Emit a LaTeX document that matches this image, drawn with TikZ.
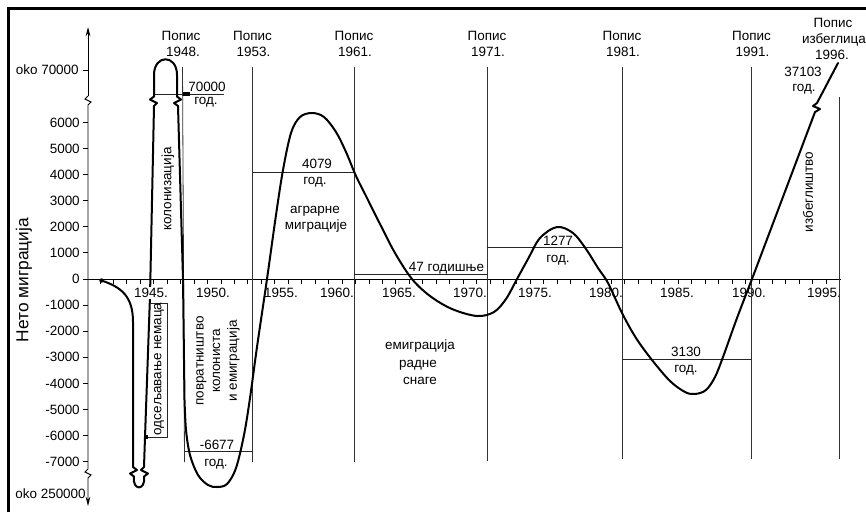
\documentclass[tikz,border=0pt]{standalone}
\usepackage{fontspec}
\setmainfont{Liberation Sans}
\usetikzlibrary{arrows.meta}
\begin{document}
\begin{tikzpicture}[x=0.75pt,y=-0.75pt,
  lbl/.style={font=\fontsize{10.1}{11.25}\selectfont, inner sep=0pt},
  curve/.style={line width=1.5pt, line join=round, line cap=round},
  census/.style={line width=0.6pt, draw=black!80},
  avg/.style={line width=0.6pt, draw=black!85},
  axisln/.style={line width=0.7pt},
  tip/.style={-{Stealth[length=7pt,width=3.5pt]}}
]
\useasboundingbox (0,0) rectangle (866,512);
\fill[white] (0,0) rectangle (866,512);
% frame (top and left edges)
\draw[line width=2.3pt] (8.5,512) -- (8.5,8.5) -- (866,8.5);

% ---------- Y axis ----------
\coordinate (ytop) at (88,27);
\coordinate (ybot) at (88,506);
\draw[axisln, tip] (88,96) -- (ytop);
\draw[axisln] (88,96) -- (85,99) -- (91,102) -- (88,105) -- (88,469);
\draw[axisln, tip] (88,469) -- (85,472) -- (91,475) -- (88,478) -- (ybot);
\node[font=\fontsize{13}{15}\selectfont, rotate=90, inner sep=0pt] (ytitle) at (24,280) {Нето миграција};
\foreach \v in {-7000,-6000,...,6000} {
  \pgfmathsetmacro\yy{279-\v*0.0261}
  \draw[axisln] (83,\yy) -- (88,\yy);
  \node[lbl, anchor=east] (yl\v) at (80,\yy) {\v};
}
\draw[axisln] (83,70) -- (88,70);
\node[lbl, anchor=east] (ylhi) at (79,70) {oko 70000};
\node[lbl, anchor=base east] (ylLo) at (86,498) {oko 250000};

% ---------- X axis ----------
\draw[axisln] (88,279) -- (841,279);
\foreach \i in {0,...,55} {
  \draw[axisln] (100+\i*13.45,279) -- ++(0,4.5);
}
\foreach \x/\yr in {213/1950,281/1955,337/1960,399/1965,470/1970,535/1975,606/1980,677/1985,749/1990,824/1995} {
  \node[lbl, anchor=base] (yr\yr) at (\x,297.5) {\yr.};
}

% ---------- census lines ----------
\draw[census] (182.5,67) -- (184.5,462);
\node[lbl, anchor=base] (cpa) at (181,40) {Попис};
\node[lbl, anchor=base] (cya) at (183,56) {1948.};
\foreach \x/\yr/\nm/\yb in {252.5/1953/b/462,354/1961/c/462,487/1971/d/461,622/1981/e/459,751.5/1991/f/459} {
  \node[lbl, anchor=base] (cp\nm) at (\x,40) {Попис};
  \node[lbl, anchor=base] (cy\nm) at (\x+1,56) {\yr.};
  \draw[census] (\x,67) -- (\x,\yb);
}
\draw[census] (839,97) -- (839,459);
\node[lbl, anchor=base] (cpg) at (833,27) {Попис};
\node[lbl, anchor=base] (cig) at (834,43) {избеглица};
\node[lbl, anchor=base] (cyg) at (832,59) {1996.};

% ---------- average lines ----------
\draw[avg] (154,94) -- (224,94);
\fill (183,92) rectangle (190,96);
\node[lbl, anchor=base] (v70) at (207,91.5) {70000};
\node[lbl, anchor=base] (g70) at (206,104) {год.};

\draw[avg] (252.5,172) -- (354,172);
\node[lbl, anchor=base] (v4079) at (317,168) {4079};
\node[lbl, anchor=base] (g4079) at (315,184) {год.};

\draw[avg] (184.5,451) -- (253,451);
\node[lbl, anchor=base] (v6677) at (217,449) {-6677};
\node[lbl, anchor=base] (g6677) at (216,466) {год.};

\draw[avg] (354,274) -- (487,274);
\node[lbl, anchor=base] (v47) at (446.5,271) {47 годишње};

\draw[avg] (487,247) -- (622,247);
\node[lbl, anchor=base] (v1277) at (558,245) {1277};
\node[lbl, anchor=base] (g1277) at (558,262) {год.};

\draw[avg] (622,359) -- (752,359);
\node[lbl, anchor=base] (v3130) at (686,356.5) {3130};
\node[lbl, anchor=base] (g3130) at (686,372) {год.};

\node[lbl, anchor=base] (v37103) at (803,76) {37103};
\node[lbl, anchor=base] (g37103) at (804,91.5) {год.};

% ---------- the curve ----------
\fill (101.5,280.5) circle (2.2);
\draw[curve] (101.5,280.5) .. controls (121,287) and (133,296) .. (133,322)
  -- (133,467) -- (137,470) -- (130,473.5) -- (134,476.5)
  .. controls (132,491) and (146,491) .. (144,476.5)
  -- (148,473.5) -- (141,470) -- (144,467) -- (145,437) -- (150,296)
  -- (154,106) -- (157,103) -- (150,99.5) -- (154,96.5) -- (154,75)
  .. controls (154,54) and (177,54) .. (177,75)
  -- (177,96.5) -- (181,99.5) -- (174,103) -- (178,106) -- (183,279)
  -- plot[smooth, tension=0.55] coordinates {(184.5,400) (186,430) (190,455) (198,475) (208,485) (217,487) (227,484) (236,468) (244,435) (250,398) (257,347) (267,279) (276,215) (283,170) (291,133) (300,117) (312,113) (324,117) (336,132) (346,152) (356,176) (366,196) (380,224) (395,253) (412,279) (430,296) (452,309) (477,316) (494,312) (506,299) (517,279) (528,259) (540,238) (557,227) (573,233) (586,249) (598,268) (608,283) (622,313) (636,338) (652,360) (670,381) (685,392) (695,394) (706,390) (715,377) (723,357) (737,318) (752,279)}
  -- (815,112) -- (820,109) -- (813,106) -- (817,103) -- (838,63);

% label over the rising strand at 1945
\node[lbl, anchor=base, fill=white, inner sep=1pt] (yr1945) at (151,297.5) {1945.};

% ---------- box "одсељавање немаца" ----------
\draw[avg] (150,303) -- (167.5,303) -- (167.5,437) -- (146,437);
\fill (143.5,435.3) rectangle (148,438.7);
\node[lbl, rotate=90] (odsel) at (159,369) {одсељавање немаца};

% ---------- rotated and free texts ----------
\node[lbl, rotate=90] (kolon) at (168,189) {колонизација};
\node[lbl, rotate=90, align=center, font=\fontsize{10.1}{12.4}\selectfont] (povr) at (218,361) {повратништво\\колониста\\и емиграција};
\node[lbl, anchor=base] (agr1) at (315,213) {аграрне};
\node[lbl, anchor=base] (agr2) at (316,229) {миграције};
\node[lbl, anchor=base] (em1) at (420,349) {емиграција};
\node[lbl, anchor=base] (em2) at (418,367) {радне};
\node[lbl, anchor=base] (em3) at (420,384) {снаге};
\node[lbl, rotate=90] (izb) at (808,192) {избеглиштво};
\end{tikzpicture}
\end{document}
